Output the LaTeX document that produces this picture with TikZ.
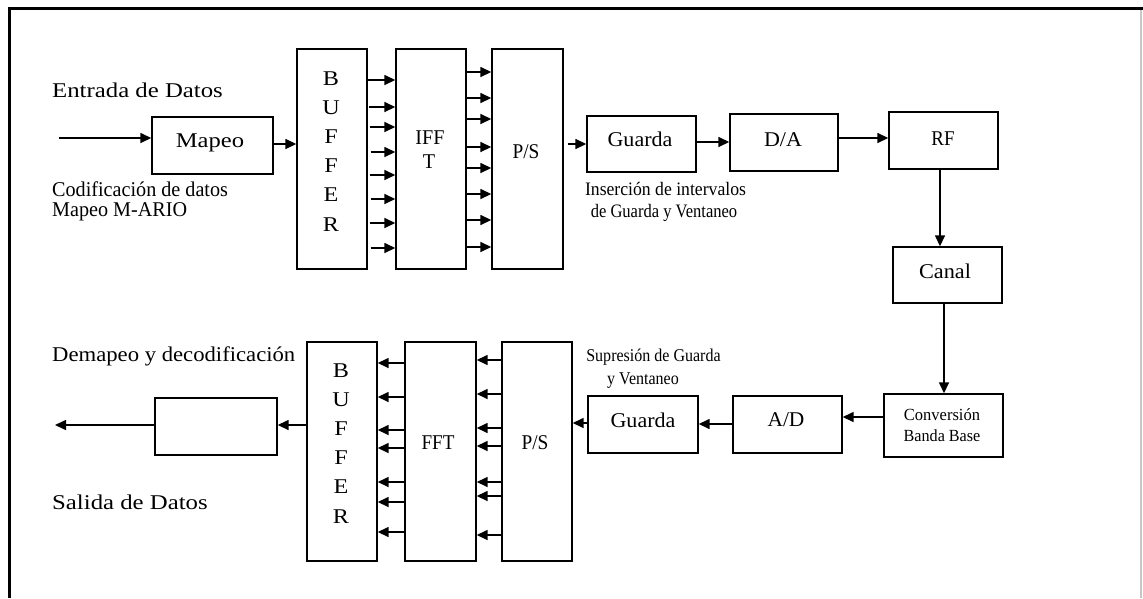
\documentclass[tikz,border=0pt]{standalone}
\usepackage{fontspec}
\usepackage{graphicx}
\setmainfont{Liberation Serif}
\usetikzlibrary{arrows.meta}
\newcommand\hsc[2]{\scalebox{#1}[1]{#2}}
\tikzset{
  box/.style={draw, line width=1.4pt, inner sep=0pt},
  txt/.style={inner sep=0pt, anchor=base, font=\fontsize{21}{24}\selectfont},
  smalltxt/.style={inner sep=0pt, anchor=base, font=\fontsize{19}{22}\selectfont},
  smtxt/.style={inner sep=0pt, anchor=base, font=\fontsize{18}{21}\selectfont},
  tinytxt/.style={inner sep=0pt, anchor=base, font=\fontsize{17}{20}\selectfont},
  arr/.style={line width=1.5pt, -{Triangle[length=11pt,width=10pt]}},
}
\begin{document}
\begin{tikzpicture}[x=1pt,y=-1pt]
\useasboundingbox (0,0) rectangle (1143,598);
% frame
\draw[line width=2.6pt] (9.5,598) -- (9.5,8.5) -- (1143,8.5);
\draw[black!22, line width=2pt] (1141,10) -- (1141,598);

% ---------- top row boxes ----------
\node[box, minimum width=121, minimum height=57] (mapeo) at (212.5,145.5) {};
\node[box, minimum width=70, minimum height=220] (buf1) at (332,159) {};
\node[box, minimum width=70, minimum height=220] (ifft) at (431,159) {};
\node[box, minimum width=71, minimum height=220] (ps1) at (527.5,159) {};
\node[box, minimum width=109, minimum height=56] (guarda1) at (641.5,144) {};
\node[box, minimum width=108, minimum height=57] (da) at (784,142.5) {};
\node[box, minimum width=109, minimum height=57] (rf) at (943.5,140.5) {};
\node[box, minimum width=109, minimum height=56] (canal) at (947.5,275) {};
% ---------- bottom row boxes ----------
\node[box, minimum width=119, minimum height=63] (conv) at (943.5,425.5) {};
\node[box, minimum width=109, minimum height=57] (ad) at (787.5,424.5) {};
\node[box, minimum width=110, minimum height=57] (guarda2) at (643,424.5) {};
\node[box, minimum width=70, minimum height=219] (ps2) at (537,451.5) {};
\node[box, minimum width=71, minimum height=219] (fft) at (440.5,451.5) {};
\node[box, minimum width=70, minimum height=219] (buf2) at (342,451.5) {};
\node[box, minimum width=122, minimum height=57] (out) at (216,426.5) {};

% ---------- texts ----------
\node[txt, anchor=base west] (tEntrada) at (52,97) {\hsc{1.18}{Entrada de Datos}};
\node[txt, anchor=base west] (tCod1) at (52,196.7) {\hsc{0.96}{Codificación de datos}};
\node[txt, anchor=base west] (tCod2) at (52,216) {\hsc{0.96}{Mapeo M-ARIO}};
\node[txt] (tMapeo) at (210,147.5) {\hsc{1.17}{Mapeo}};
\foreach \l [count=\i from 0] in {B,U,F,F,E,R}{
  \node[txt] (tb1\i) at (331,85+29.2*\i) {\hsc{1.15}{\l}};
  \node[txt] (tb2\i) at (341,377+29.2*\i) {\hsc{1.15}{\l}};
}
\node[txt] (tIFF) at (430,144) {\hsc{0.96}{IFF}};
\node[txt] (tT) at (429,168) {\hsc{0.96}{T}};
\node[txt] (tPS1) at (526,158) {\hsc{0.92}{P/S}};
\node[txt] (tGuarda1) at (640,146.7) {\hsc{1.05}{Guarda}};
\node[txt] (tDA) at (783,146) {\hsc{1.05}{D/A}};
\node[txt] (tRF) at (943,145) {\hsc{0.9}{RF}};
\node[txt] (tCanal) at (945,278) {\hsc{1.06}{Canal}};
\node[smalltxt] (tIns1) at (665.5,195) {\hsc{0.93}{Inserción de intervalos}};
\node[smalltxt] (tIns2) at (664,217) {\hsc{0.87}{de Guarda y Ventaneo}};
\node[smtxt] (tSup1) at (653.5,361.7) {\hsc{0.89}{Supresión de Guarda}};
\node[smtxt] (tSup2) at (643,384) {\hsc{0.89}{y Ventaneo}};
\node[tinytxt] (tConv1) at (942,420.7) {\hsc{0.97}{Conversión}};
\node[tinytxt] (tConv2) at (942,441) {\hsc{0.95}{Banda Base}};
\node[txt] (tAD) at (786,426) {\hsc{1.02}{A/D}};
\node[txt] (tGuarda2) at (643,427.5) {\hsc{1.05}{Guarda}};
\node[txt] (tFFT) at (438,449) {\hsc{0.91}{FFT}};
\node[txt] (tPS2) at (535,449) {\hsc{0.92}{P/S}};
\node[txt, anchor=base west] (tDemap) at (52,361.7) {\hsc{1.08}{Demapeo y decodificación}};
\node[txt, anchor=base west] (tSalida) at (52,509) {\hsc{1.18}{Salida de Datos}};

% ---------- connectors ----------
\coordinate (inp) at (59,138);
\coordinate (outp) at (55,425);
\draw[arr] (inp) -- (mapeo.west |- inp);
\draw[arr] (mapeo.east |- 0,144) -- (buf1.west |- 0,144);
\foreach \y/\s in {80/0,107/1,127/2,152/3,175/2,199/3,223/2,248/3}
  \draw[arr] ([xshift=\s pt]buf1.east |- 0,\y) -- (ifft.west |- 0,\y);
\foreach \y in {72,98,119,147,168,194,220,247}
  \draw[arr] (ifft.east |- 0,\y) -- (ps1.west |- 0,\y);
\draw[arr] ([xshift=4pt]ps1.east |- 0,144) -- (guarda1.west |- 0,144);
\draw[arr] (guarda1.east |- 0,142) -- (da.west |- 0,142);
\draw[arr] (da.east |- 0,138) -- (rf.west |- 0,138);
\draw[arr] (rf.south -| 940,0) -- (canal.north -| 940,0);
\draw[arr] (canal.south -| 944,0) -- (conv.north -| 944,0);
\draw[arr] (conv.west |- 0,417) -- (ad.east |- 0,417);
\draw[arr] (ad.west |- 0,424) -- (guarda2.east |- 0,424);
\draw[arr] (guarda2.west |- 0,423) -- (ps2.east |- 0,423);
\foreach \y in {360,394,428,446,482,496,535}
  \draw[arr] (ps2.west |- 0,\y) -- (fft.east |- 0,\y);
\foreach \y in {363,397,430,448,482,502,532}
  \draw[arr] (fft.west |- 0,\y) -- (buf2.east |- 0,\y);
\draw[arr] (buf2.west |- 0,425) -- (out.east |- 0,425);
\draw[arr] (out.west |- outp) -- (outp);
\end{tikzpicture}
\end{document}
